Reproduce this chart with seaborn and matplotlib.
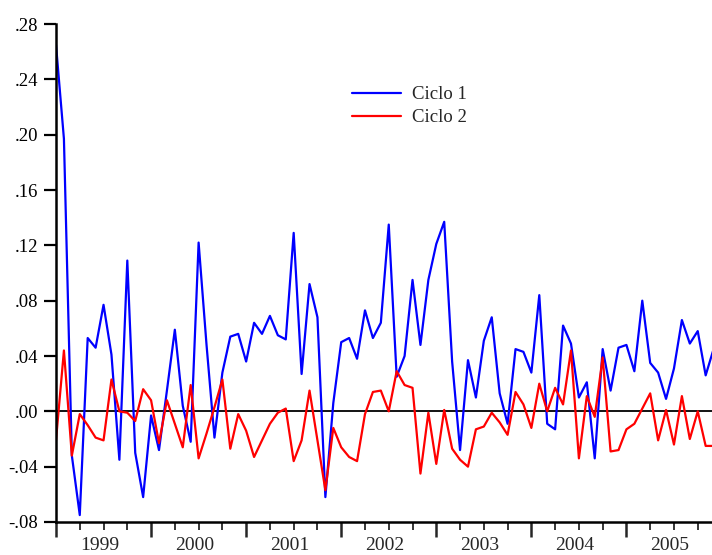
import numpy as np
import pandas as pd
import matplotlib
matplotlib.use("Agg")
import matplotlib.pyplot as plt
import seaborn as sns

# monthly observations, 1999M01 onwards
ciclo1 = [0.265, 0.197, -0.032, -0.075, 0.053, 0.046, 0.077, 0.041, -0.035, 0.109, -0.030, -0.062,
          -0.003, -0.028, 0.015, 0.059, 0.004, -0.022, 0.122, 0.048, -0.019, 0.028, 0.054, 0.056,
          0.036, 0.064, 0.056, 0.069, 0.055, 0.052, 0.129, 0.027, 0.092, 0.068, -0.062, 0.006,
          0.050, 0.053, 0.038, 0.073, 0.053, 0.064, 0.135, 0.025, 0.040, 0.095, 0.048, 0.095,
          0.121, 0.137, 0.036, -0.028, 0.037, 0.010, 0.051, 0.068, 0.013, -0.009, 0.045, 0.043,
          0.028, 0.084, -0.009, -0.013, 0.062, 0.049, 0.010, 0.021, -0.034, 0.045, 0.015, 0.046,
          0.048, 0.029, 0.080, 0.035, 0.028, 0.009, 0.031, 0.066, 0.049, 0.058, 0.026, 0.045]
ciclo2 = [-0.021, 0.044, -0.032, -0.002, -0.010, -0.019, -0.021, 0.023, 0.000, -0.001, -0.007, 0.016,
          0.008, -0.023, 0.008, -0.009, -0.026, 0.019, -0.034, -0.016, 0.003, 0.023, -0.027, -0.002,
          -0.014, -0.033, -0.021, -0.009, -0.001, 0.002, -0.036, -0.021, 0.015, -0.021, -0.057, -0.012,
          -0.026, -0.033, -0.036, -0.002, 0.014, 0.015, 0.000, 0.029, 0.019, 0.017, -0.045, -0.001,
          -0.038, 0.001, -0.027, -0.035, -0.040, -0.013, -0.011, -0.001, -0.008, -0.017, 0.014, 0.005,
          -0.012, 0.020, 0.000, 0.017, 0.005, 0.044, -0.034, 0.011, -0.004, 0.039, -0.029, -0.028,
          -0.013, -0.009, 0.002, 0.013, -0.021, 0.001, -0.024, 0.011, -0.020, 0.000, -0.025, -0.025]
years = ["1999", "2000", "2001", "2002", "2003", "2004", "2005"]
yticks = [-0.08, -0.04, 0.00, 0.04, 0.08, 0.12, 0.16, 0.20, 0.24, 0.28]

n = len(ciclo1)
mes = np.arange(n)
df = pd.DataFrame({
    "mes": np.concatenate([mes, mes]),
    "valor": ciclo1 + ciclo2,
    "serie": ["Ciclo 1"] * n + ["Ciclo 2"] * n,
})

sns.set_style("ticks")
plt.rcParams["font.family"] = ["Liberation Serif", "DejaVu Serif"]

fig = plt.figure(figsize=(7.12, 5.55), dpi=100)
ax = fig.add_axes([56 / 712, 33 / 555, 1 - 56 / 712, 498 / 555])

ax.axhline(0, color="black", lw=1.3, zorder=1)
sns.lineplot(data=df, x="mes", y="valor", hue="serie",
             palette={"Ciclo 1": "#0000ff", "Ciclo 2": "#ff0000"},
             lw=1.6, errorbar=None, ax=ax, zorder=2)

ax.set_xlim(0, 82.8)
ax.set_ylim(-0.08, 0.28)
ax.set_xlabel("")
ax.set_ylabel("")

for s in ["top", "right"]:
    ax.spines[s].set_visible(False)
for s in ["left", "bottom"]:
    ax.spines[s].set_linewidth(1.8)
    ax.spines[s].set_color("black")

ax.set_yticks(yticks)
ax.set_yticklabels([f"{v:.2f}".replace("0.", ".") for v in yticks])
ax.tick_params(axis="y", length=9, width=1.6, labelsize=13.5, pad=4, colors="black")

ax.set_xticks(np.arange(0, 84, 12))
ax.set_xticks(np.arange(0, 84, 3), minor=True)
ax.tick_params(axis="x", which="major", length=11, width=1.8, labelbottom=False)
ax.tick_params(axis="x", which="minor", length=6, width=1.3)
for k, yr in enumerate(years):
    ax.text(12 * k + 5.5, -0.03, yr, transform=ax.get_xaxis_transform(),
            ha="center", va="top", fontsize=14)

sns.move_legend(ax, "upper left", bbox_to_anchor=(0.451, 0.875), frameon=False, title=None,
                fontsize=13.5, handlelength=2.6, handletextpad=0.6, labelspacing=0.3,
                borderaxespad=0, borderpad=0)

fig.savefig("out.png", dpi=100)
